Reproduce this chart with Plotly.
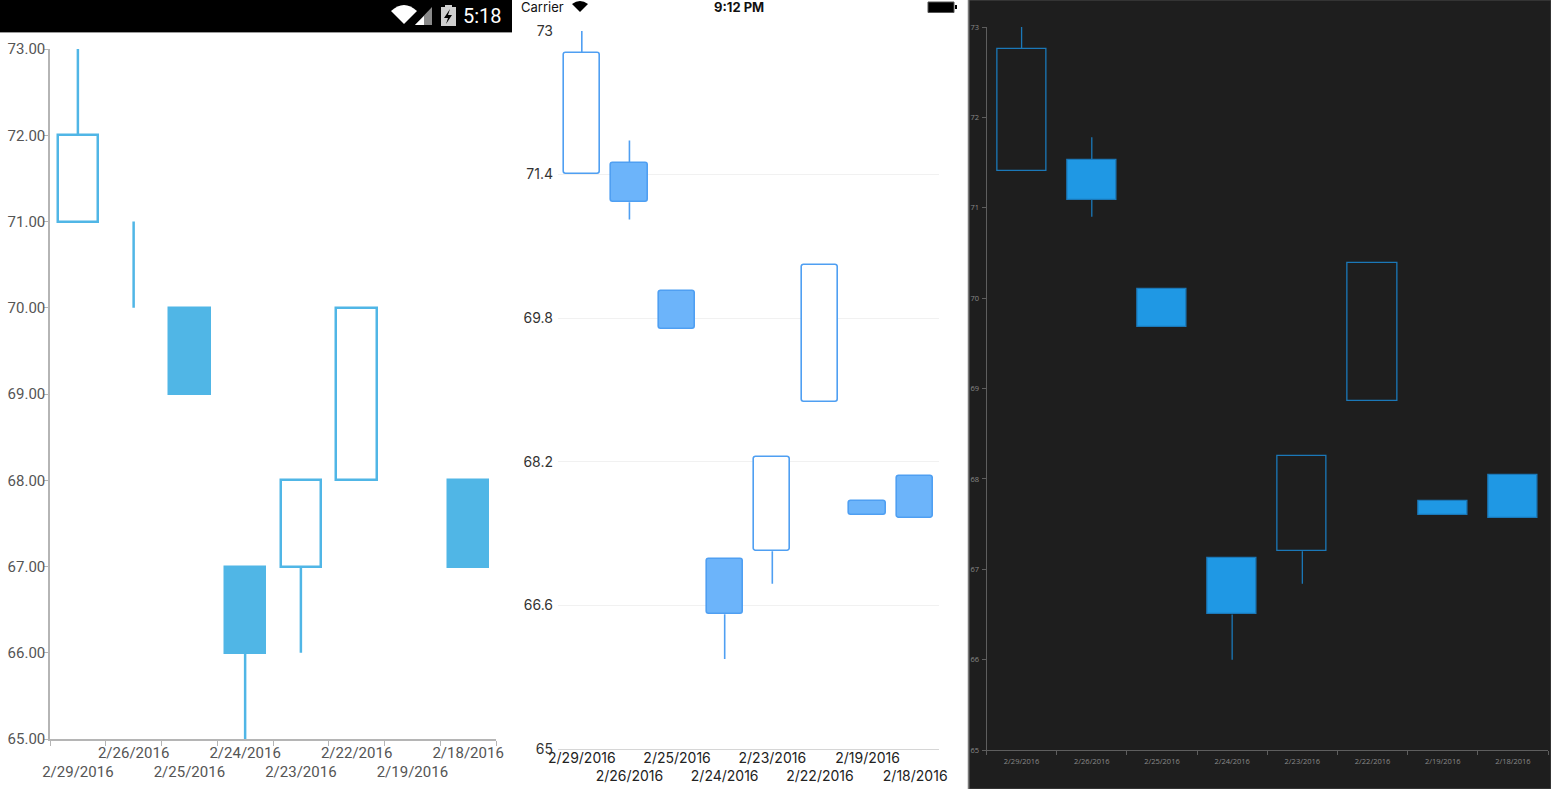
import plotly.graph_objects as go

W, H = 1551, 789

# ---- data (same 8 sessions shown on three platforms) ----
dates = ["2/29/2016", "2/26/2016", "2/25/2016", "2/24/2016",
         "2/23/2016", "2/22/2016", "2/19/2016", "2/18/2016"]
open_px = [71.41, 71.53, 70.10, 67.12, 67.20, 68.86, 67.76, 68.04]
close_px = [72.76, 71.09, 69.68, 66.50, 68.25, 70.39, 67.60, 67.57]
high_px = [73.00, 71.78, 70.10, 67.12, 68.25, 70.39, 67.76, 68.04]
low_px = [71.41, 70.90, 69.68, 66.00, 66.84, 68.86, 67.60, 67.57]
# android panel shows the prices cut to whole numbers
open_int = [71, 71, 70, 67, 67, 68, 67, 68]
close_int = [72, 71, 69, 66, 68, 70, 67, 67]
high_int = [73, 71, 70, 67, 68, 70, 67, 68]
low_int = [71, 70, 69, 65, 66, 68, 67, 67]


def px(x): return x / W
def py(y): return 1 - y / H


def stagger(labels, low_first):
    # two label rows, like the native axis does when labels collide
    out = []
    for i, t in enumerate(labels):
        lower = (i % 2 == 0) == low_first
        out.append("\u00a0<br>" + t if lower else t)
    return out


def add_candles(fig, o, c, h, l, xa, ya, fill, edge, bg, lw, width, radius=0):
    base = [min(a, b) for a, b in zip(o, c)]
    size = [abs(b - a) for a, b in zip(o, c)]
    colors = [bg if b > a else fill for a, b in zip(o, c)]
    widths = [lw if s > 0 else 0 for s in size]   # flat bodies are not drawn
    fig.add_trace(go.Bar(x=dates, y=size, base=base, width=width, xaxis=xa, yaxis=ya,
                         marker=dict(color=colors, line=dict(color=edge, width=widths),
                                     cornerradius=radius),
                         showlegend=False, hoverinfo="skip"))
    xs, ys = [], []
    for d, a, b, hh, ll in zip(dates, o, c, h, l):
        lo, hi = min(a, b), max(a, b)
        if hh > hi:
            xs += [d, d, None]; ys += [hi, hh, None]
        if ll < lo:
            xs += [d, d, None]; ys += [ll, lo, None]
    fig.add_trace(go.Scatter(x=xs, y=ys, mode="lines", xaxis=xa, yaxis=ya,
                             line=dict(color=edge, width=lw),
                             showlegend=False, hoverinfo="skip"))


fig = go.Figure()

# android
add_candles(fig, open_int, close_int, high_int, low_int, "x", "y",
            "#50b6e6", "#50b6e6", "#ffffff", 2.5, 0.73)
# ios
add_candles(fig, open_px, close_px, high_px, low_px, "x2", "y2",
            "#6cb4fa", "#4f9ff2", "#ffffff", 1.6, 0.76, radius=3)
# uwp
add_candles(fig, open_px, close_px, high_px, low_px, "x3", "y3",
            "#1f98e4", "#1b78b8", "#1e1e1e", 1.3, 0.7)

cat = dict(type="category", range=[-0.5, 7.5], tickmode="array", tickvals=dates,
           tickangle=0, automargin=False, showgrid=False, zeroline=False, fixedrange=True)
val = dict(range=[65, 73], tickmode="linear", tick0=65, automargin=False,
           zeroline=False, fixedrange=True)

fig.update_layout(
    width=W, height=H, margin=dict(l=0, r=0, t=0, b=0, pad=0), autosize=False,
    paper_bgcolor="#ffffff", plot_bgcolor="rgba(0,0,0,0)", bargap=0,
    xaxis=dict(cat, domain=[px(50), px(496)], anchor="y", ticktext=stagger(dates, True),
               tickson="boundaries", ticks="outside", ticklen=5, tickcolor="#b5b5b5",
               showline=True, linecolor="#b5b5b5", linewidth=1.5, ticklabelstandoff=-1,
               tickfont=dict(family="Roboto", size=15, color="#555555")),
    yaxis=dict(val, domain=[py(739), py(49)], anchor="x", dtick=1, tickformat=".2f",
               showgrid=False, ticks="outside", ticklen=4, tickcolor="#b5b5b5",
               showline=True, linecolor="#b5b5b5", linewidth=1.5, ticklabelstandoff=-4,
               tickfont=dict(family="Roboto", size=15, color="#555555")),
    xaxis2=dict(cat, domain=[px(558), px(939)], anchor="y2", ticktext=stagger(dates, False),
                ticks="", showline=True, linecolor="#d6d6d6", linewidth=1, ticklabelstandoff=-4,
                tickfont=dict(family="Inter", size=14, color="#222222")),
    yaxis2=dict(val, domain=[py(748.7), py(31)], anchor="x2", dtick=1.6,
                showgrid=True, gridcolor="#f1f1f1", ticks="", showline=False, ticklabelstandoff=4,
                tickfont=dict(family="Inter", size=14, color="#333333")),
    xaxis3=dict(cat, domain=[px(986.5), px(1548)], anchor="y3", tickson="boundaries",
                ticktext=dates, ticks="outside", ticklen=4, tickcolor="#5e5e5e",
                showline=True, linecolor="#5e5e5e", linewidth=1, ticklabelstandoff=4,
                tickfont=dict(family="Open Sans", size=7.5, color="#8a8a8a")),
    yaxis3=dict(val, domain=[py(750), py(27)], anchor="x3", dtick=1,
                showgrid=False, ticks="outside", ticklen=4, tickcolor="#5e5e5e",
                showline=True, linecolor="#5e5e5e", linewidth=1, ticklabelstandoff=1,
                tickfont=dict(family="Open Sans", size=7.5, color="#8a8a8a")),
)


def path(pts):
    return "M " + " L ".join(f"{px(a)},{py(b)}" for a, b in pts) + " Z"


shapes = [
    # uwp dark page
    dict(type="rect", xref="paper", yref="paper", x0=px(969), x1=1, y0=0, y1=1,
         fillcolor="#1e1e1e", line=dict(color="#4a4a4a", width=1), layer="below"),
    # android status bar
    dict(type="rect", xref="paper", yref="paper", x0=0, x1=px(512), y0=py(32), y1=1,
         fillcolor="#000000", line=dict(width=0), layer="below"),
    dict(type="line", xref="paper", yref="paper", x0=0, x1=px(512), y0=py(32.5), y1=py(32.5),
         line=dict(color="#9a9a9a", width=1)),
    # android wifi / signal / battery
    dict(type="path", xref="paper", yref="paper", fillcolor="#ffffff", line=dict(width=0),
         path=f"M {px(404)},{py(24)} L {px(391)},{py(11)} Q {px(404)},{py(-1)} {px(417)},{py(11)} Z"),
    dict(type="path", xref="paper", yref="paper", fillcolor="#8a8a8a", line=dict(width=0),
         path=path([(415, 25), (432, 25), (432, 7)])),
    dict(type="path", xref="paper", yref="paper", fillcolor="#ffffff", line=dict(width=0),
         path=path([(415, 25), (424, 25), (424, 16)])),
    dict(type="rect", xref="paper", yref="paper", x0=px(441), x1=px(456), y0=py(26), y1=py(7),
         fillcolor="#cfcfcf", line=dict(width=0)),
    dict(type="rect", xref="paper", yref="paper", x0=px(445), x1=px(452), y0=py(7), y1=py(5),
         fillcolor="#cfcfcf", line=dict(width=0)),
    dict(type="path", xref="paper", yref="paper", fillcolor="#000000", line=dict(width=0),
         path=path([(450, 9), (444, 18), (448, 18), (446, 24), (452, 15), (448, 15)])),
    # ios right edge and battery
    dict(type="line", xref="paper", yref="paper", x0=px(968.5), x1=px(968.5), y0=0, y1=1,
         line=dict(color="#7a7a7a", width=1.5)),
    dict(type="rect", xref="paper", yref="paper", x0=px(928), x1=px(954), y0=py(12.5), y1=py(2),
         fillcolor="#000000", line=dict(color="#555555", width=1)),
    dict(type="rect", xref="paper", yref="paper", x0=px(955), x1=px(957), y0=py(9), y1=py(5),
         fillcolor="#000000", line=dict(width=0)),
    dict(type="path", xref="paper", yref="paper", fillcolor="#000000", line=dict(width=0),
         path=f"M {px(580)},{py(12)} L {px(572)},{py(4)} Q {px(580)},{py(-2)} {px(588)},{py(4)} Z"),
]
fig.update_layout(shapes=shapes)

fig.add_annotation(text="5:18", x=px(504), y=py(16), xref="paper", yref="paper",
                   xanchor="right", yanchor="middle", showarrow=False,
                   font=dict(family="Roboto", size=20, color="#ffffff"))
fig.add_annotation(text="Carrier", x=px(519), y=py(7), xref="paper", yref="paper",
                   xanchor="left", yanchor="middle", showarrow=False,
                   font=dict(family="Inter", size=13, color="#111111"))
fig.add_annotation(text="<b>9:12 PM</b>", x=px(739), y=py(7), xref="paper", yref="paper",
                   xanchor="center", yanchor="middle", showarrow=False,
                   font=dict(family="Inter", size=13, color="#111111"))

fig.write_html("out.html", config={"displayModeBar": False},
               post_script="document.body.style.margin='0';")
